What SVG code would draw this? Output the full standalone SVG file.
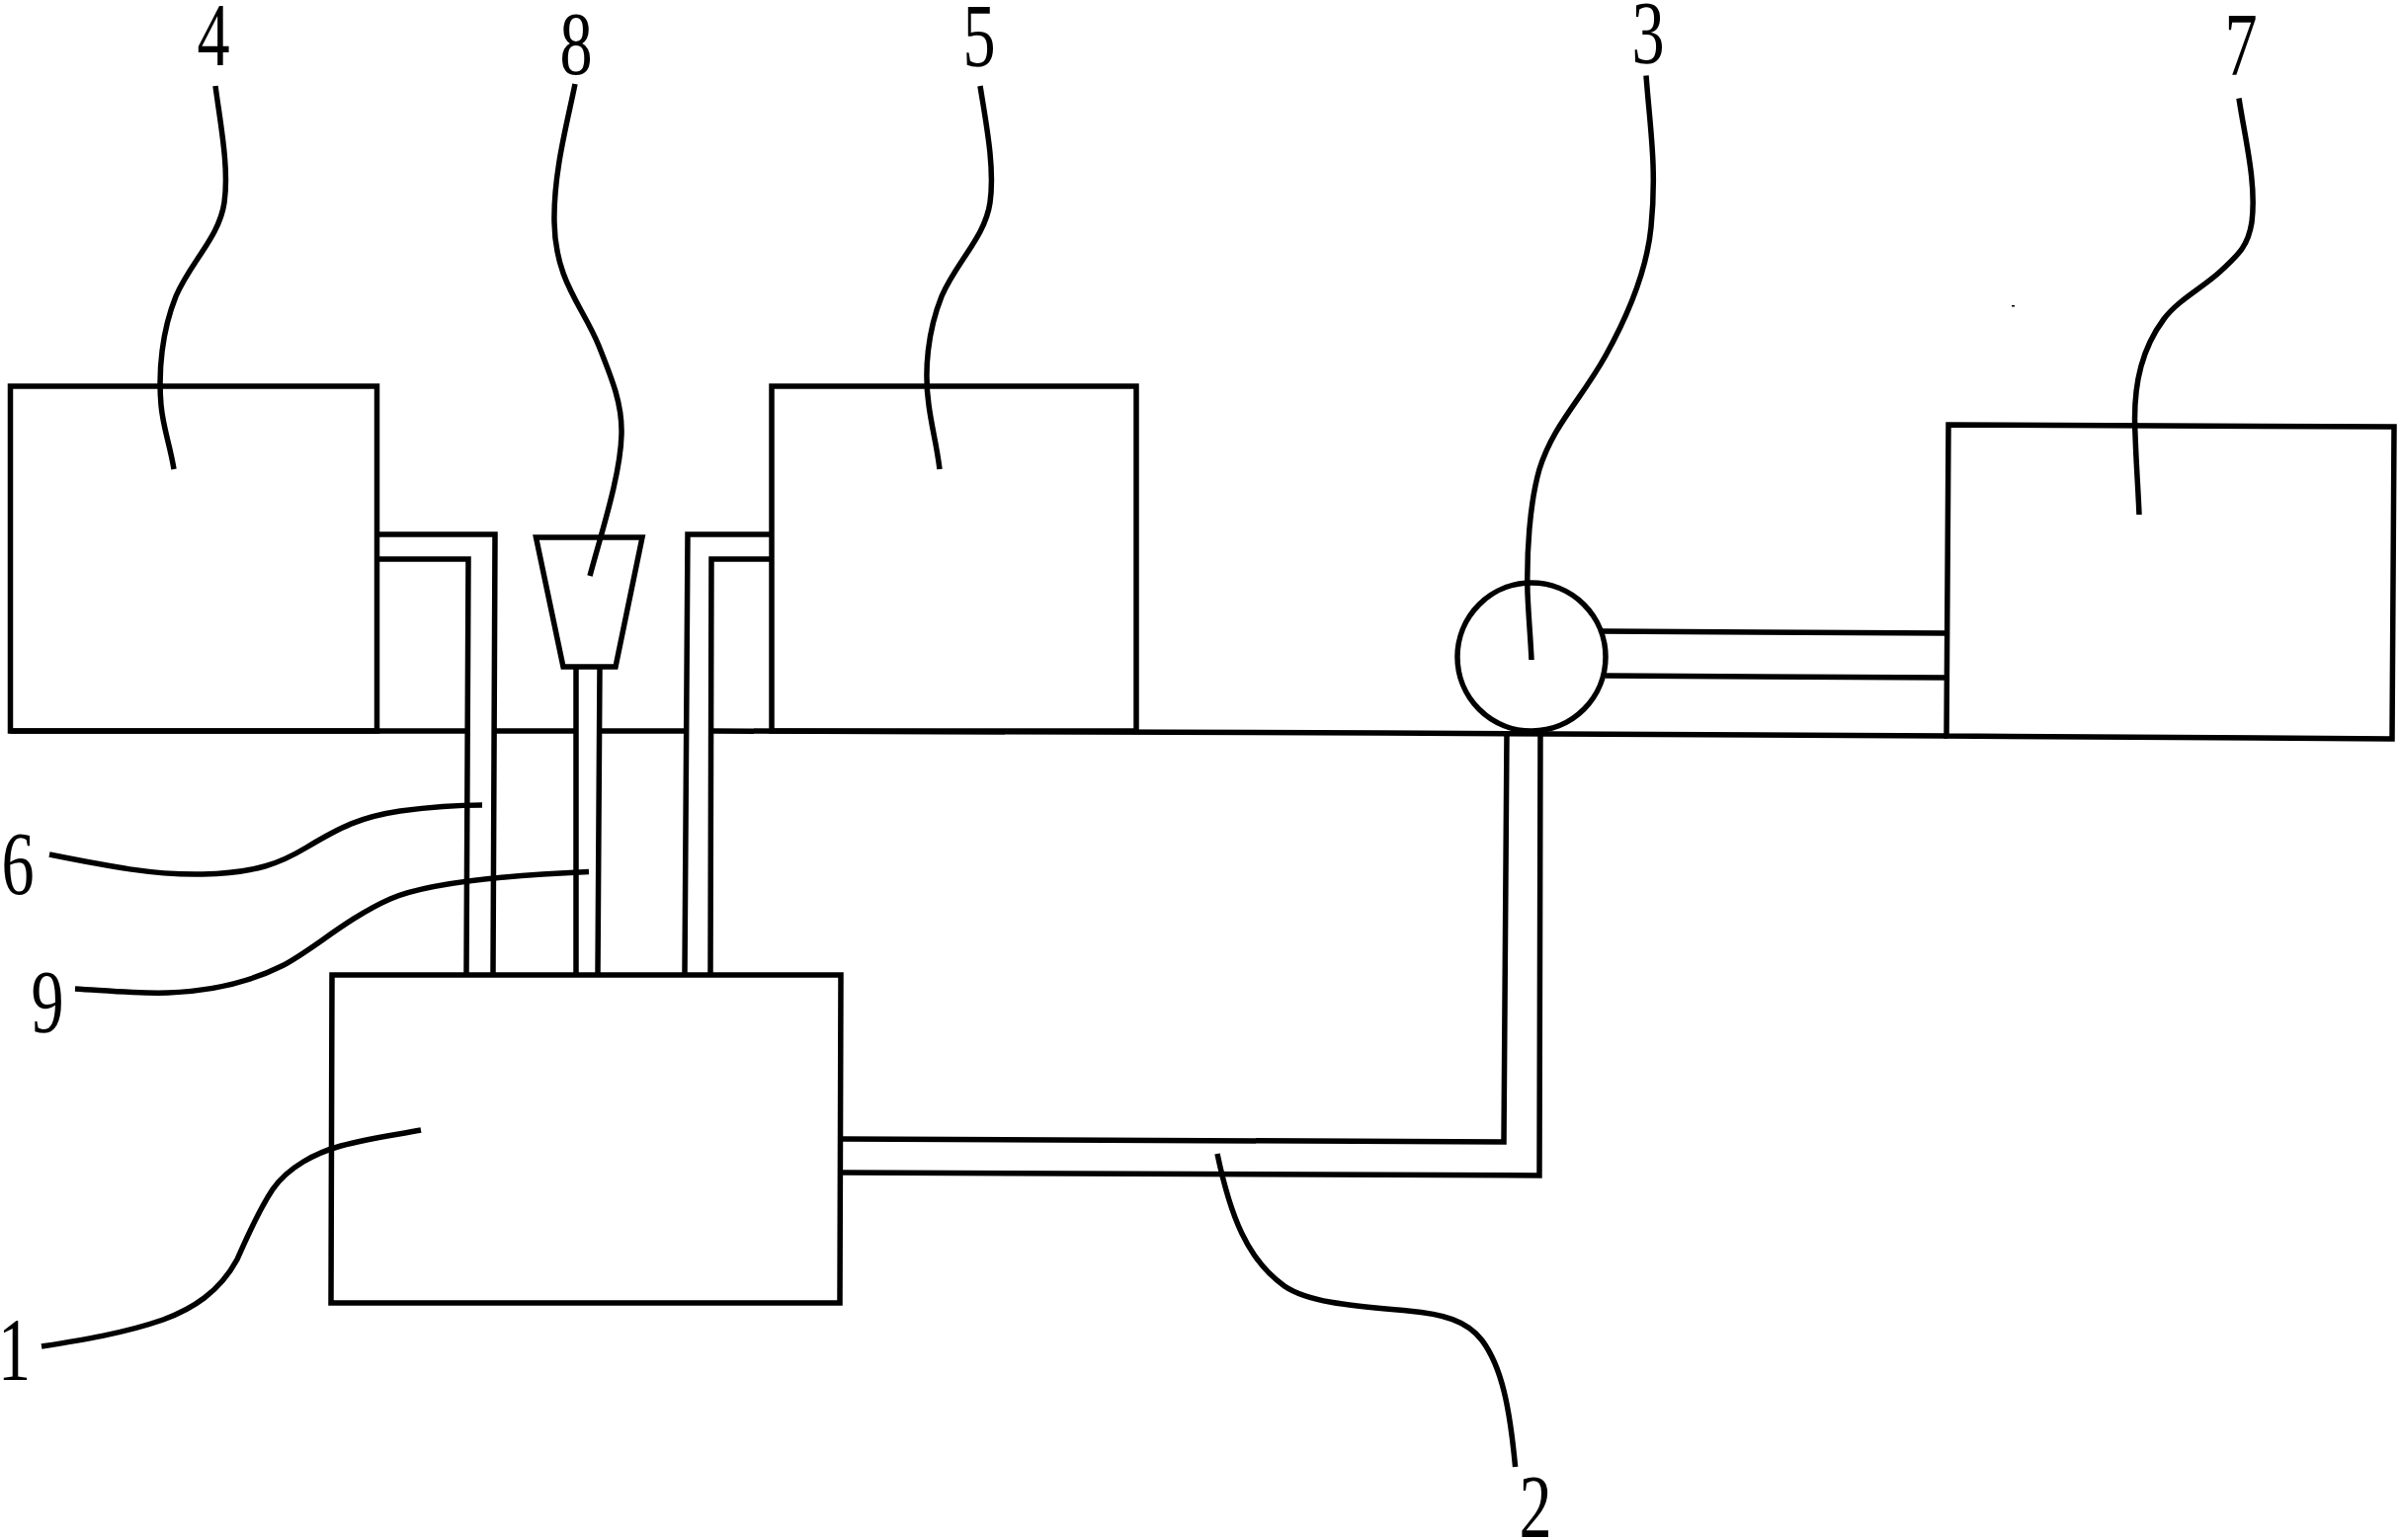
<svg xmlns="http://www.w3.org/2000/svg" width="2429" height="1559" viewBox="0 0 2429 1559">
<style>
.s{fill:none;stroke:#000;stroke-width:5.5;stroke-linejoin:miter}
.l{fill:none;stroke:#000;stroke-width:5.5;stroke-linecap:butt}
.t{font-family:"Liberation Serif","Times New Roman",serif;font-size:92px;fill:#000;text-anchor:middle}
</style>
<rect width="2429" height="1559" fill="#fff"/>
<g id="connectors">
<path id="baseline" class="s" d="M10 740H474M501 740H583M607 740H696M720 740L1400 742L1971 745"/>
<path id="pipe-6-outer" class="s" d="M382 541H501L499 986"/>
<path id="pipe-6-inner" class="s" d="M382 566H474L472 986"/>
<path id="pipe-9" class="s" d="M583 675V986M607 675L605 986"/>
<path id="pipe-5-outer" class="s" d="M781 541H696L693 986"/>
<path id="pipe-5-inner" class="s" d="M781 566H720L719 986"/>
<path id="pipe-2-inner" class="s" d="M851 1153L1522 1156L1525 742"/>
<path id="pipe-2-outer" class="s" d="M851 1187L1558 1190L1559 742"/>
<path id="pipe-7" class="s" d="M1622 639L1971 641M1625 684L1971 686"/>
<path id="leader-4" class="l" d="M218 87C223 125 232 170 227 205C222 240 193 265 178 300C164 335 160 375 163 410C165 433 172 450 176 475"/>
<path id="leader-5" class="l" d="M992 87C998 125 1007 170 1002 205C997 240 968 265 953 300C939 335 935 375 940 410C943 433 948 450 951 475"/>
<path id="leader-8" class="l" d="M582 85C574 125 560 175 561 225C562 285 590 310 606 350C620 385 630 410 629 440C628 480 610 535 597 583"/>
<path id="leader-3" class="l" d="M1666 76.5C1670 130 1677 170 1671 230C1667 270 1650 315 1625 360C1600 405 1572 430 1558 475C1548 510 1545 560 1546 600C1547 625 1549 645 1550 668"/>
<path id="leader-7" class="l" d="M2266 99.5C2272 140 2284 185 2279 225C2275 250 2265 258 2248 274C2230 291 2205 303 2190 323C2170 350 2158 385 2161 440C2162 470 2164 495 2165 521"/>
<path id="leader-6" class="l" d="M50 865C110 877 155 886 205 885C260 884 285 873 310 858C345 837 365 827 405 821C435 817 460 815 488 815"/>
<path id="leader-9" class="l" d="M76 1001C110 1003 140 1006 170 1005C220 1003 255 993 285 978C315 963 350 930 395 910C425 897 490 887 596 882.5"/>
<path id="leader-1" class="l" d="M42 1363C80 1357 125 1350 165 1336C195 1325 222 1308 240 1275C250 1252 262 1225 276 1204C292 1181 320 1167 345 1160C375 1152 400 1149 426 1144"/>
<path id="leader-2" class="l" d="M1232 1168C1245 1230 1262 1275 1300 1302C1325 1319 1370 1322 1425 1327C1460 1330 1485 1337 1500 1357C1520 1384 1528 1425 1533.6 1485"/>
</g>
<g id="node-1"><path class="s" d="M336 987H851L850 1319H335Z"/><text class="t" transform="translate(14.5 1397) scale(.72 1)">1</text></g>
<g id="node-2"><text class="t" transform="translate(1554 1556) scale(.72 1)">2</text></g>
<g id="node-3"><circle class="s" cx="1550" cy="665" r="75"/><text class="t" transform="translate(1668 64) scale(.72 1)">3</text></g>
<g id="node-4"><rect class="s" x="10.5" y="391" width="371" height="349"/><text class="t" transform="translate(216 66) scale(.72 1)">4</text></g>
<g id="node-5"><rect class="s" x="781" y="391" width="369" height="349"/><text class="t" transform="translate(991 67) scale(.72 1)">5</text></g>
<g id="node-6"><text class="t" transform="translate(18 905) scale(.72 1)">6</text></g>
<g id="node-7"><path class="s" d="M1972 430L2423 432L2421 748L1970 745Z"/><text class="t" transform="translate(2268 76) scale(.72 1)">7</text></g>
<g id="node-8"><path class="s" d="M542.5 544H650L623 675H570Z"/><text class="t" transform="translate(583 75) scale(.72 1)">8</text></g>
<g id="node-9"><text class="t" transform="translate(48 1045) scale(.72 1)">9</text></g>
<rect x="2036" y="309" width="3" height="1.5" fill="#000"/>
</svg>
